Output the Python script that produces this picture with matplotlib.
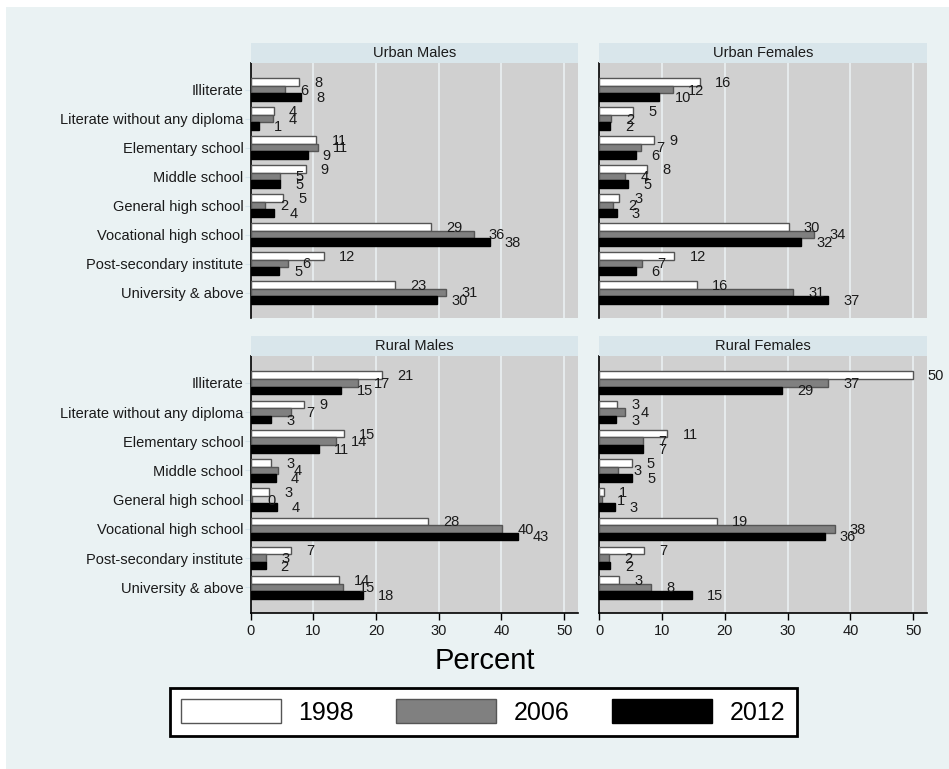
import numpy as np
import matplotlib
matplotlib.use("Agg")
import matplotlib.pyplot as plt
from matplotlib.patches import Rectangle, Patch

plt.rcParams['font.family'] = ['Liberation Sans', 'DejaVu Sans']

# categories (top to bottom)
categories = ["Illiterate", "Literate without any diploma", "Elementary school",
              "Middle school", "General high school", "Vocational high school",
              "Post-secondary institute", "University & above"]
years = ["1998", "2006", "2012"]
panels = ["Urban Males", "Urban Females", "Rural Males", "Rural Females"]

# percent values per panel, one list per year
urban_males_1998 = [7.8, 3.7, 10.5, 8.8, 5.2, 28.8, 11.7, 23.0]
urban_males_2006 = [5.5, 3.6, 10.7, 4.7, 2.3, 35.6, 5.9, 31.2]
urban_males_2012 = [8.1, 1.3, 9.1, 4.7, 3.8, 38.1, 4.6, 29.7]

urban_females_1998 = [16.1, 5.4, 8.8, 7.7, 3.2, 30.2, 12.0, 15.6]
urban_females_2006 = [11.7, 1.9, 6.7, 4.2, 2.3, 34.2, 6.8, 30.9]
urban_females_2012 = [9.6, 1.7, 5.9, 4.6, 2.8, 32.2, 5.9, 36.5]

rural_males_1998 = [21.0, 8.5, 14.9, 3.3, 3.0, 28.3, 6.5, 14.1]
rural_males_2006 = [17.2, 6.5, 13.6, 4.4, 0.3, 40.1, 2.5, 14.8]
rural_males_2012 = [14.5, 3.3, 10.9, 4.0, 4.2, 42.6, 2.4, 17.9]

rural_females_1998 = [49.9, 2.8, 10.9, 5.2, 0.8, 18.8, 7.2, 3.2]
rural_females_2006 = [36.5, 4.2, 7.0, 3.1, 0.5, 37.5, 1.6, 8.3]
rural_females_2012 = [29.1, 2.7, 7.0, 5.3, 2.5, 35.9, 1.8, 14.8]

panel_data = {
    "Urban Males": [urban_males_1998, urban_males_2006, urban_males_2012],
    "Urban Females": [urban_females_1998, urban_females_2006, urban_females_2012],
    "Rural Males": [rural_males_1998, rural_males_2006, rural_males_2012],
    "Rural Females": [rural_females_1998, rural_females_2006, rural_females_2012],
}

W, H = 949, 769
fig = plt.figure(figsize=(W / 100, H / 100), dpi=100)
fig.patch.set_facecolor('white')
bg = '#EAF2F3'
fig.patches.append(Rectangle((6 / W, 0), 1 - 6 / W, 1 - 7 / H, transform=fig.transFigure,
                             facecolor=bg, edgecolor='none', zorder=-10))

fills = ['white', '#808080', 'black']
edges = ['#555555', '#555555', 'black']
bar_h = 0.26

# panel boxes in pixels: (left, top, right, bottom)
boxes = {
    "Urban Males": (250.5, 63, 578, 318),
    "Urban Females": (599, 63, 927, 318),
    "Rural Males": (250.5, 356, 578, 613),
    "Rural Females": (599, 356, 927, 613),
}

y = np.arange(len(categories))
for name in panels:
    l, t, r, b = boxes[name]
    ax = fig.add_axes([l / W, 1 - b / H, (r - l) / W, (b - t) / H])
    ax.set_facecolor('#D0D0D0')
    for k in range(3):
        vals = np.array(panel_data[name][k])
        yy = y + (k - 1) * bar_h
        ax.barh(yy, vals, height=bar_h, color=fills[k], edgecolor=edges[k],
                linewidth=1, zorder=3)
        for v, yv in zip(vals, yy):
            ax.text(v + 2.4, yv + 0.03, str(int(np.floor(v + 0.5))), ha='left', va='center',
                    fontsize=10.5, color='#1a1a1a', zorder=4, clip_on=False)
    ax.set_xlim(0, 52.2)
    ax.set_ylim(len(categories) - 0.12, -0.92)
    ax.set_xticks([0, 10, 20, 30, 40, 50])
    for gx in [10, 20, 30, 40, 50]:
        ax.axvline(gx, color='#EAF0F2', linewidth=1.2, zorder=1)
    for s in ['top', 'right']:
        ax.spines[s].set_visible(False)
    ax.spines['left'].set_color('black')
    ax.spines['left'].set_linewidth(1.2)
    ax.set_yticks(y)
    if name in ("Urban Males", "Rural Males"):
        ax.set_yticklabels(categories, fontsize=10.5, color='#1a1a1a')
        ax.tick_params(axis='y', length=4, color='#D5E3EA', pad=1)
    else:
        ax.set_yticklabels([])
        ax.tick_params(axis='y', length=0)
    if name.startswith("Rural"):
        ax.spines['bottom'].set_color('black')
        ax.spines['bottom'].set_linewidth(1.2)
        ax.tick_params(axis='x', length=5, width=1, labelsize=10.5, labelcolor='#1a1a1a', pad=3)
    else:
        ax.spines['bottom'].set_visible(False)
        ax.tick_params(axis='x', length=0, labelbottom=False)

    # strip title
    sax = fig.add_axes([l / W, 1 - (t - 0.5) / H, (r - l) / W, 19.5 / H])
    sax.set_facecolor('#D9E6EB')
    sax.set_xticks([])
    sax.set_yticks([])
    for s in sax.spines.values():
        s.set_visible(False)
    sax.text(0.5, 0.5, name, ha='center', va='center', fontsize=10.5, color='#1a1a1a',
             transform=sax.transAxes)

fig.text(485 / W, 1 - 661 / H, "Percent", ha='center', va='center', fontsize=21, color='black')

handles = [Patch(facecolor=fills[k], edgecolor=edges[k], linewidth=1) for k in range(3)]
leg = fig.legend(handles, years, loc='center', bbox_to_anchor=(483 / W, 1 - 712 / H),
                 ncol=3, fontsize=18, handlelength=4.0, handleheight=1.05,
                 handletextpad=0.7, columnspacing=1.7, borderpad=0.45,
                 fancybox=False, framealpha=1, edgecolor='black')
leg.get_frame().set_linewidth(2)

fig.savefig('out.png', dpi=100, facecolor=fig.get_facecolor())
